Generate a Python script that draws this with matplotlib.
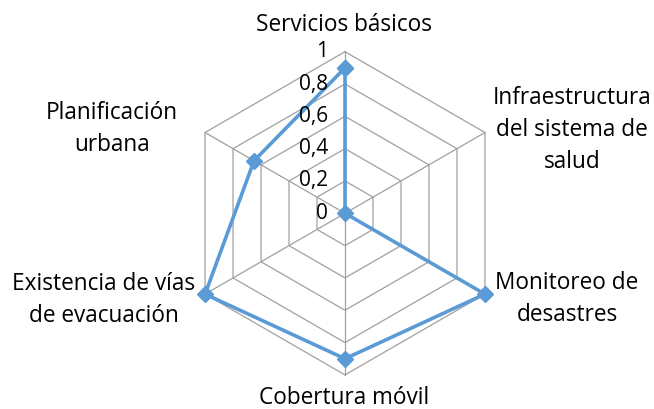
import numpy as np
import matplotlib.pyplot as plt

plt.rcParams['font.family'] = ['Open Sans', 'DejaVu Sans']

# data
categories = ['Servicios básicos', 'Infraestructura\ndel sistema de\nsalud',
              'Monitoreo de\ndesastres', 'Cobertura móvil',
              'Existencia de vías\nde evacuación', 'Planificación\nurbana']
values = [0.9, 0.0, 1.0, 0.9, 1.0, 0.65]
ticks = [0, 0.2, 0.4, 0.6, 0.8, 1.0]
tick_labels = ['0', '0,2', '0,4', '0,6', '0,8', '1']

W, H = 654, 409
cx, cy = 345, 409 - 213.3   # center in pixels (from bottom)
R = 161.6                   # pixels for value 1

fig = plt.figure(figsize=(W / 100, H / 100), dpi=100)
ax = fig.add_axes([0, 0, 1, 1])
ax.set_xlim(-cx / R, (W - cx) / R)
ax.set_ylim(-cy / R, (H - cy) / R)
ax.axis('off')

n = len(categories)
ang = np.arange(n) * 2 * np.pi / n
sx, sy = np.sin(ang), np.cos(ang)

grid_c = '#a0a0a0'
# hexagon rings
for t in ticks[1:]:
    ax.plot(np.append(sx, sx[0]) * t, np.append(sy, sy[0]) * t,
            color=grid_c, lw=0.9, zorder=1)
# spokes
for i in range(n):
    ax.plot([0, sx[i]], [0, sy[i]], color=grid_c, lw=0.9, zorder=1)

# series
v = np.array(values)
ax.plot(np.append(v * sx, v[0] * sx[0]), np.append(v * sy, v[0] * sy[0]),
        color='#5b9bd5', lw=2.6, marker='D', ms=8, zorder=3)

# tick labels
for t, lab in zip(ticks, tick_labels):
    ax.text(-17 / R, t, lab, ha='right', va='center', fontsize=15,
            color='black', zorder=4)

# category labels (pixel positions from the reference)
label_pos = [(344, 25), (572, 130), (567, 299), (344, 398), (104, 300), (112, 129)]
for lab, (px, py) in zip(categories, label_pos):
    ax.text((px - cx) / R, (H - py - cy) / R, lab, ha='center', va='center',
            fontsize=16.3, linespacing=1.42, color='black')

fig.savefig('out.png', dpi=100)
